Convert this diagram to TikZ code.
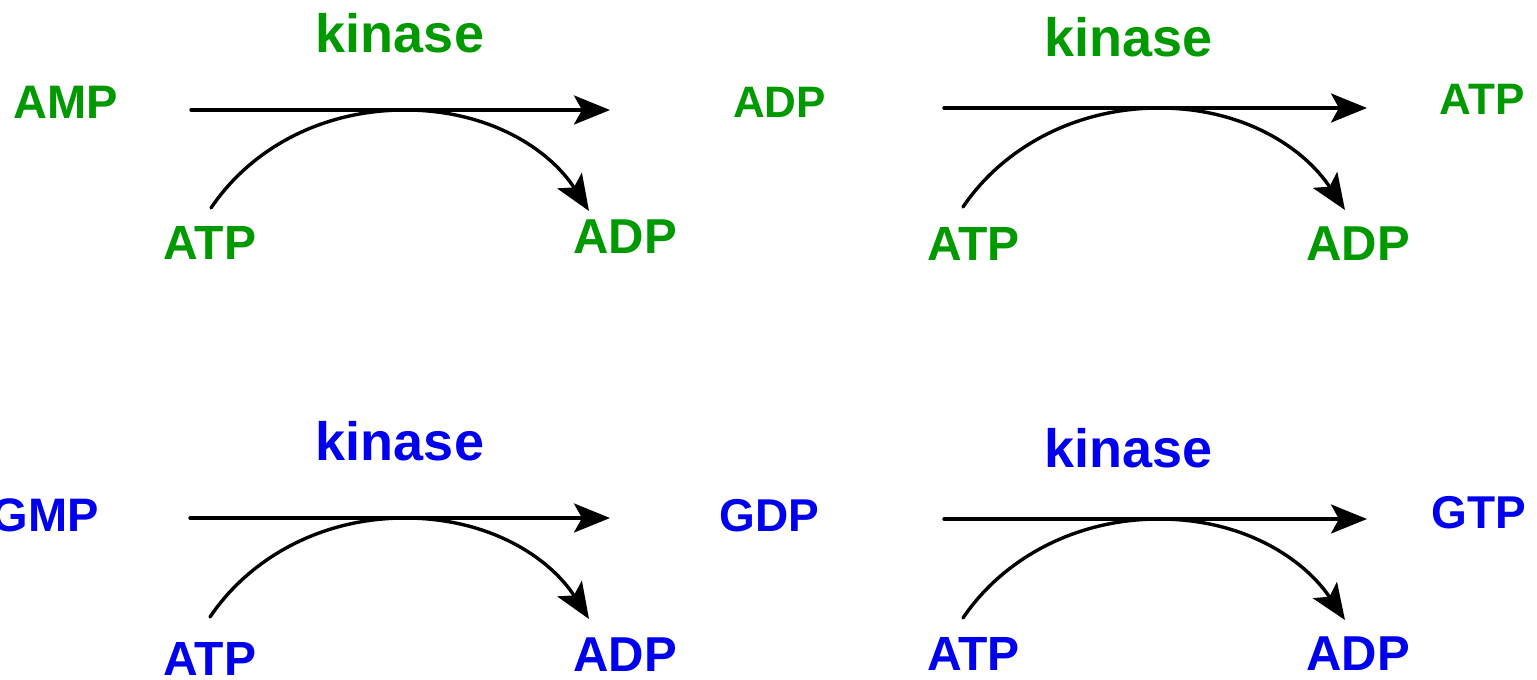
\documentclass[tikz,border=0pt]{standalone}
\usepackage{fontspec}
\setmainfont{Liberation Sans}
\usetikzlibrary{arrows.meta,calc}
\definecolor{kgreen}{RGB}{0,153,0}
\definecolor{kblue}{RGB}{0,0,238}
\begin{document}
\begin{tikzpicture}[x=1pt,y=-1pt,
  lab/.style={anchor=base, inner sep=0pt, font=\bfseries\fontsize{#1}{#1}\selectfont},
  gr/.style={text=kgreen},
  bl/.style={text=kblue},
  rxn/.style={line width=3.4pt, line cap=round, -{Stealth[length=36pt,width=29pt,inset=8pt]}},
  ]
\useasboundingbox (0,0) rectangle (1537,680);

% ---------- panel 1 ----------
\node[lab=54,gr] (k1) at (400,52) {kinase};
\node[lab=47,gr] (amp) at (65.5,118) {AMP};
\node[lab=44,gr] (adp1) at (779.5,117) {ADP};
\node[lab=48,gr] (atpA) at (210,259) {ATP};
\node[lab=49,gr] (adpA) at (625,253) {ADP};
\coordinate (h1s) at (191,110);
\coordinate (h1e) at (610,110);
\coordinate (c1s) at (211,208);
\coordinate (c1p) at (405,110);
\coordinate (c1e) at (589,211);
\draw[rxn] (h1s) -- (h1e);
\draw[rxn] (c1s) .. controls ($(c1s)+(39,-58)$) and ($(c1s)+(109,-98)$) .. (c1p)
  .. controls ($(c1p)+(85,0)$) and ($(c1p)+(145,40)$) .. (c1e);

% ---------- panel 2 ----------
\node[lab=54,gr] (k2) at (1128.5,56) {kinase};
\node[lab=44,gr] (atp2) at (1482,114) {ATP};
\node[lab=48,gr] (atpB) at (973.5,260) {ATP};
\node[lab=49,gr] (adpB) at (1358,260) {ADP};
\coordinate (h2s) at (944,108);
\coordinate (h2e) at (1367,108);
\coordinate (c2s) at (963,207);
\coordinate (c2p) at (1159,108);
\coordinate (c2e) at (1345,210);
\draw[rxn] (h2s) -- (h2e);
\draw[rxn] (c2s) .. controls ($(c2s)+(39,-58)$) and ($(c2s)+(111,-99)$) .. (c2p)
  .. controls ($(c2p)+(85,0)$) and ($(c2p)+(145,40)$) .. (c2e);

% ---------- panel 3 ----------
\node[lab=54,bl] (k3) at (400,460) {kinase};
\node[lab=47,bl] (gmp) at (45.5,531) {GMP};
\node[lab=46,bl] (gdp) at (769.5,531) {GDP};
\node[lab=48,bl] (atpC) at (210,675) {ATP};
\node[lab=49,bl] (adpC) at (625,671) {ADP};
\coordinate (h3s) at (190,518);
\coordinate (h3e) at (610,518);
\coordinate (c3s) at (210,617);
\coordinate (c3p) at (405,518);
\coordinate (c3e) at (589,619);
\draw[rxn] (h3s) -- (h3e);
\draw[rxn] (c3s) .. controls ($(c3s)+(39,-58)$) and ($(c3s)+(110,-99)$) .. (c3p)
  .. controls ($(c3p)+(85,0)$) and ($(c3p)+(145,40)$) .. (c3e);

% ---------- panel 4 ----------
\node[lab=54,bl] (k4) at (1128.5,467) {kinase};
\node[lab=46,bl] (gtp) at (1479,528) {GTP};
\node[lab=48,bl] (atpD) at (973.5,670) {ATP};
\node[lab=49,bl] (adpD) at (1358,670) {ADP};
\coordinate (h4s) at (944,519);
\coordinate (h4e) at (1367,519);
\coordinate (c4s) at (963,618);
\coordinate (c4p) at (1159,519);
\coordinate (c4e) at (1345,620);
\draw[rxn] (h4s) -- (h4e);
\draw[rxn] (c4s) .. controls ($(c4s)+(39,-58)$) and ($(c4s)+(111,-99)$) .. (c4p)
  .. controls ($(c4p)+(85,0)$) and ($(c4p)+(145,40)$) .. (c4e);
\end{tikzpicture}
\end{document}
